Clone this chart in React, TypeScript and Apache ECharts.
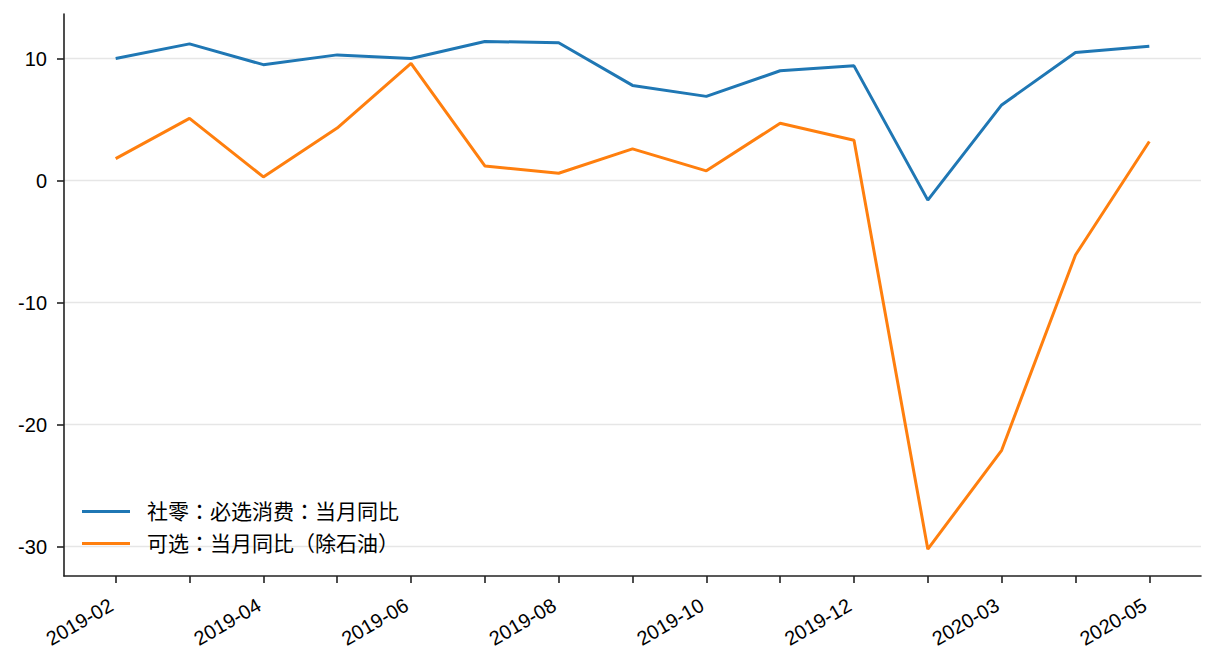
import React, { useEffect, useRef } from 'react';
import * as echarts from 'echarts';

// 月份（2020-01/02 合并为 2020-02）
const months = [
  '2019-02', '2019-03', '2019-04', '2019-05', '2019-06', '2019-07', '2019-08',
  '2019-09', '2019-10', '2019-11', '2019-12', '2020-02', '2020-03', '2020-04', '2020-05',
];

const essentialName = '社零：必选消费：当月同比';
const essentialValues = [10.0, 11.2, 9.5, 10.3, 10.0, 11.4, 11.3, 7.8, 6.9, 9.0, 9.4, -1.6, 6.2, 10.5, 11.0];

const optionalName = '可选：当月同比（除石油）';
const optionalValues = [1.8, 5.1, 0.3, 4.3, 9.6, 1.2, 0.6, 2.6, 0.8, 4.7, 3.3, -30.2, -22.1, -6.1, 3.2];

const yTicks = [-30, -20, -10, 0, 10];

const LATIN = "'Liberation Sans', Arial, sans-serif";
const CJK = "'Liberation Sans', 'Noto Sans CJK TC', sans-serif";

export default function App() {
  const chartRef = useRef<HTMLDivElement>(null);

  useEffect(() => {
    if (!chartRef.current) return;
    const chart = echarts.init(chartRef.current, undefined, { renderer: 'svg' });

    const idx = months.map((_, i) => i);
    const labelIdx = idx.filter(i => i % 2 === 0);

    chart.setOption({
      animation: false,
      backgroundColor: '#ffffff',
      grid: { left: 64, right: 15, top: 14, bottom: 96, outerBoundsMode: 'none' },
      legend: {
        orient: 'vertical',
        left: 82,
        top: 501,
        padding: 0,
        itemWidth: 48,
        itemHeight: 3,
        itemGap: 11,
        icon: 'rect',
        textStyle: { fontFamily: CJK, fontSize: 21, color: '#000', padding: [0, 0, 0, 12] },
        data: [essentialName, optionalName],
      },
      xAxis: {
        type: 'value',
        min: -0.7,
        max: 14.7,
        axisLine: { show: true, onZero: false, lineStyle: { color: '#222', width: 1.6 } },
        axisTick: { show: true, length: 7, customValues: idx, lineStyle: { color: '#222', width: 1.6 } },
        axisLabel: {
          customValues: labelIdx,
          rotate: 30,
          margin: 25,
          padding: [0, 5, 0, 0],
          fontFamily: LATIN,
          fontSize: 20,
          color: '#000',
          formatter: (v: number) => months[Math.round(v)] ?? '',
        },
        splitLine: { show: false },
      },
      yAxis: {
        type: 'value',
        min: -32.4,
        max: 13.65,
        axisLine: { show: true, onZero: false, lineStyle: { color: '#222', width: 1.6 } },
        axisTick: { show: true, length: 7, customValues: yTicks, lineStyle: { color: '#222', width: 1.6 } },
        axisLabel: {
          customValues: yTicks,
          margin: 17,
          fontFamily: LATIN,
          fontSize: 20,
          color: '#000',
        },
        splitLine: { show: true, lineStyle: { color: '#e6e6e6', width: 1.3 } },
      },
      series: [
        {
          name: essentialName,
          type: 'line',
          symbol: 'none',
          data: essentialValues.map((v, i) => [i, v]),
          lineStyle: { color: '#1f77b4', width: 3 },
          itemStyle: { color: '#1f77b4' },
        },
        {
          name: optionalName,
          type: 'line',
          symbol: 'none',
          data: optionalValues.map((v, i) => [i, v]),
          lineStyle: { color: '#ff7f0e', width: 3 },
          itemStyle: { color: '#ff7f0e' },
        },
      ],
    });

    return () => {
      chart.dispose();
    };
  }, []);

  return (
    <div
      ref={chartRef}
      style={{ position: 'fixed', left: 0, top: 0, width: 1216, height: 672, background: '#fff' }}
    />
  );
}
